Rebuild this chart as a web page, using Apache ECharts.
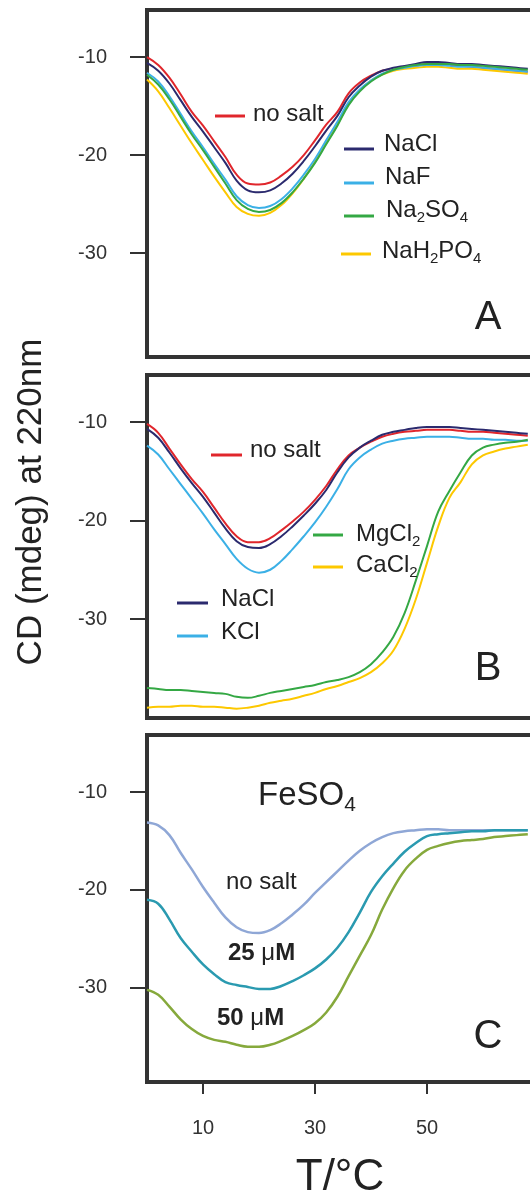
<!DOCTYPE html>
<html><head><meta charset="utf-8">
<script src="https://cdn.jsdelivr.net/npm/echarts@6/dist/echarts.min.js"></script>
<style>html,body{margin:0;padding:0;background:#fff}#c{width:530px;height:1197px}</style>
</head><body><div id="c"></div>
<script>
// Temperature (°C)
const temps = [0,2,4,6,8,10,12,14,16,18,20,22,24,26,28,30,32,34,36,38,40,42,44,46,48,50,52,54,56,58,60,62,64,66,68];

// Panel A
const A_noSalt  = [-10.0,-10.8,-12.1,-13.8,-15.6,-17.0,-18.6,-20.2,-22.0,-22.9,-23.0,-22.8,-22.1,-21.2,-20.0,-18.5,-16.9,-15.6,-13.7,-12.6,-11.9,-11.4,-11.2,-11.0,-10.9,-10.7,-10.7,-10.8,-10.9,-11.0,-11.1,-11.2,-11.3,-11.4,-11.5];
const A_NaCl    = [-10.6,-11.4,-12.7,-14.4,-16.1,-17.6,-19.2,-20.8,-22.6,-23.6,-23.8,-23.6,-22.9,-21.9,-20.6,-19.1,-17.5,-16.0,-14.1,-12.9,-12.0,-11.4,-11.1,-10.9,-10.7,-10.5,-10.5,-10.6,-10.7,-10.7,-10.8,-10.9,-11.0,-11.1,-11.2];
const A_NaF     = [-11.6,-12.5,-14.0,-15.8,-17.6,-19.2,-20.9,-22.5,-24.2,-25.1,-25.4,-25.2,-24.5,-23.4,-22.0,-20.4,-18.5,-16.6,-14.6,-13.3,-12.4,-11.7,-11.3,-11.1,-10.9,-10.8,-10.8,-10.9,-11.0,-11.0,-11.1,-11.2,-11.3,-11.4,-11.5];
const A_Na2SO4  = [-11.8,-12.8,-14.3,-16.1,-17.9,-19.5,-21.2,-22.9,-24.6,-25.5,-25.8,-25.6,-24.9,-23.8,-22.4,-20.8,-18.9,-17.0,-14.9,-13.5,-12.5,-11.8,-11.3,-11.0,-10.8,-10.7,-10.7,-10.7,-10.8,-10.8,-10.9,-11.0,-11.1,-11.2,-11.3];
const A_NaH2PO4 = [-12.3,-13.5,-15.2,-17.0,-18.8,-20.5,-22.2,-23.8,-25.3,-26.0,-26.2,-25.9,-25.1,-23.9,-22.4,-20.7,-18.8,-16.9,-14.8,-13.4,-12.4,-11.8,-11.4,-11.2,-11.1,-11.0,-11.0,-11.1,-11.2,-11.2,-11.3,-11.4,-11.5,-11.6,-11.7];

// Panel B
const B_noSalt = [-10.2,-11.1,-12.7,-14.3,-15.8,-17.1,-18.7,-20.3,-21.6,-22.2,-22.2,-21.8,-21.0,-20.1,-19.1,-17.9,-16.5,-14.8,-13.4,-12.6,-12.0,-11.5,-11.2,-11.0,-10.9,-10.8,-10.8,-10.8,-10.9,-11.0,-11.0,-11.1,-11.2,-11.3,-11.4];
const B_NaCl   = [-10.7,-11.6,-13.1,-14.7,-16.2,-17.6,-19.2,-20.8,-22.1,-22.7,-22.8,-22.4,-21.6,-20.6,-19.5,-18.3,-16.9,-15.1,-13.6,-12.6,-11.9,-11.3,-11.0,-10.8,-10.6,-10.5,-10.5,-10.5,-10.6,-10.7,-10.8,-10.9,-11.0,-11.1,-11.2];
const B_KCl    = [-12.4,-13.3,-14.8,-16.3,-17.8,-19.3,-20.9,-22.4,-23.9,-24.9,-25.3,-25.0,-24.1,-22.9,-21.6,-20.2,-18.6,-16.8,-14.8,-13.6,-12.8,-12.2,-11.9,-11.7,-11.6,-11.5,-11.5,-11.5,-11.6,-11.7,-11.7,-11.8,-11.8,-11.9,-11.9];
const B_MgCl2  = [-37.0,-37.1,-37.2,-37.2,-37.3,-37.4,-37.5,-37.6,-37.9,-38.0,-37.8,-37.5,-37.3,-37.1,-36.9,-36.7,-36.4,-36.2,-35.9,-35.4,-34.6,-33.4,-31.8,-29.4,-26.1,-22.6,-19.1,-17.0,-15.1,-13.4,-12.6,-12.3,-12.1,-12.0,-11.8];
const B_CaCl2  = [-39.0,-38.9,-38.9,-38.8,-38.8,-38.9,-38.9,-39.0,-39.1,-39.0,-38.8,-38.5,-38.3,-38.1,-37.8,-37.5,-37.1,-36.8,-36.4,-36.0,-35.4,-34.5,-33.2,-31.0,-28.0,-24.3,-20.6,-17.7,-16.1,-14.3,-13.4,-13.0,-12.7,-12.5,-12.3];

// Panel C (FeSO4)
const C_noSalt = [-13.1,-13.4,-14.4,-16.2,-17.9,-19.7,-21.3,-22.8,-23.8,-24.3,-24.4,-24.1,-23.4,-22.5,-21.5,-20.3,-19.2,-18.1,-17.0,-16.0,-15.2,-14.6,-14.2,-14.0,-13.9,-13.8,-13.8,-13.9,-13.9,-13.9,-13.9,-13.9,-13.9,-13.9,-13.9];
const C_25uM   = [-21.0,-21.4,-23.0,-24.9,-26.3,-27.6,-28.6,-29.4,-29.7,-29.9,-30.1,-30.1,-29.8,-29.3,-28.7,-28.0,-27.1,-25.9,-24.3,-22.3,-20.2,-18.6,-17.3,-16.1,-15.2,-14.5,-14.3,-14.2,-14.1,-14.0,-14.0,-13.9,-13.9,-13.9,-13.9];
const C_50uM   = [-30.2,-30.7,-31.9,-33.2,-34.2,-34.9,-35.3,-35.5,-35.8,-36.0,-36.0,-35.8,-35.4,-34.9,-34.3,-33.6,-32.5,-30.9,-28.8,-26.7,-24.6,-22.0,-19.8,-18.0,-16.8,-15.9,-15.5,-15.2,-15.0,-14.9,-14.8,-14.6,-14.5,-14.4,-14.3];

const yTicks = [-30,-20,-10];
const xTicks = [10,30,50];

const FONT = 'Arial, "Liberation Sans", Helvetica, sans-serif';
const INK = '#333';
const pair = arr => temps.map((t,i)=>[t, arr[i]]);

const grids = [
  {left:147, top:10,  width:392, height:347},
  {left:147, top:375, width:392, height:343},
  {left:147, top:735, width:392, height:347}
].map(g => Object.assign(g, {show:true, borderColor:INK, borderWidth:4, backgroundColor:'transparent', containLabel:false, outerBoundsMode:'none'}));

const yRanges = [[-40.6,-5.2],[-40.05,-5.23],[-39.6,-4.18]];
const yAxes = yRanges.map((r,i)=>({
  type:'value', gridIndex:i, min:r[0], max:r[1],
  axisLine:{show:false},
  splitLine:{show:false},
  axisTick:{show:true, length:17, customValues:yTicks, lineStyle:{color:INK, width:2}},
  axisLabel:{show:true, customValues:yTicks, margin:40, fontSize:20, color:INK, fontFamily:FONT}
}));
const xAxes = [0,1,2].map(i=>({
  type:'value', gridIndex:i, min:0, max:70,
  axisLine:{show:false}, splitLine:{show:false},
  axisTick:{show:i===2, length:12, customValues:xTicks, lineStyle:{color:INK, width:2}},
  axisLabel:{show:i===2, customValues:xTicks, margin:36, fontSize:20, color:INK, fontFamily:FONT}
}));

function ser(name, arr, g, color, w){
  return {name, type:'line', xAxisIndex:g, yAxisIndex:g, data:pair(arr), showSymbol:false, smooth:0.4,
    lineStyle:{color, width:w||2}, itemStyle:{color}, silent:true, animation:false};
}
const RED='#e0262c', NAVY='#2b2a6e', LBLUE='#3bb0e6', GREEN='#34a844', YEL='#fdc800';
const CP='#8fa7d6', CT='#2a9ab0', CO='#86a93c';

const series = [
  ser('no salt', A_noSalt, 0, RED),
  ser('NaCl', A_NaCl, 0, NAVY),
  ser('NaH2PO4', A_NaH2PO4, 0, YEL),
  ser('NaF', A_NaF, 0, LBLUE),
  ser('Na2SO4', A_Na2SO4, 0, GREEN),
  ser('KCl', B_KCl, 1, LBLUE),
  ser('no salt B', B_noSalt, 1, RED),
  ser('NaCl B', B_NaCl, 1, NAVY),
  ser('CaCl2', B_CaCl2, 1, YEL),
  ser('MgCl2', B_MgCl2, 1, GREEN),
  ser('no salt C', C_noSalt, 2, CP, 2.5),
  ser('25 µM', C_25uM, 2, CT, 2.5),
  ser('50 µM', C_50uM, 2, CO, 2.5)
];

const base = {fontSize:24, fontFamily:FONT, fill:'#222', lineHeight:30, verticalAlign:'middle'};
const sub = {fontSize:15, fontFamily:FONT, fill:'#222', lineHeight:30, verticalAlign:'bottom'};
const rich = {n:base, s:sub};
function legLine(x1,x2,y,color){ return {type:'line', shape:{x1,y1:y,x2,y2:y}, style:{stroke:color, lineWidth:3}, z:10}; }
function label(x,y,text,extra){
  return {type:'text', x, y, z:10, style:Object.assign({text, rich, fontSize:24, fontFamily:FONT, fill:'#222', align:'left', verticalAlign:'middle'}, extra||{})};
}

const graphic = [
  // Panel A legend
  legLine(215,245,116,RED),  label(253,114,'{n|no salt}'),
  legLine(344,374,149,NAVY), label(384,144,'{n|NaCl}'),
  legLine(344,374,183,LBLUE),label(385,177,'{n|NaF}'),
  legLine(344,374,216,GREEN),label(386,210,'{n|Na}{s|2}{n|SO}{s|4}'),
  legLine(341,371,254,YEL),  label(382,251,'{n|NaH}{s|2}{n|PO}{s|4}'),
  // Panel B legend
  legLine(211,242,455,RED),  label(250,450,'{n|no salt}'),
  legLine(177,208,603,NAVY), label(221,599,'{n|NaCl}'),
  legLine(177,208,636,LBLUE),label(221,632,'{n|KCl}'),
  legLine(313,343,535,GREEN),label(356,534,'{n|MgCl}{s|2}'),
  legLine(313,343,567,YEL),  label(356,565,'{n|CaCl}{s|2}'),
  // Panel C labels
  label(258,796,'{f|FeSO}{fs|4}',{rich:{f:{fontSize:33,fontFamily:FONT,fill:'#222',lineHeight:40,verticalAlign:'middle'}, fs:{fontSize:21,fontFamily:FONT,fill:'#222',lineHeight:40,verticalAlign:'bottom'}}}),
  label(226,882,'{n|no salt}'),
  label(228,953,'{b|25 }{m|μ}{b|M}',{rich:{b:{fontSize:24,fontWeight:'bold',fontFamily:FONT,fill:'#222'}, m:{fontSize:24,fontFamily:FONT,fill:'#222'}}}),
  label(217,1018,'{b|50 }{m|μ}{b|M}',{rich:{b:{fontSize:24,fontWeight:'bold',fontFamily:FONT,fill:'#222'}, m:{fontSize:24,fontFamily:FONT,fill:'#222'}}}),
  // Panel letters
  {type:'text', x:488, y:318, z:10, style:{text:'A', fontSize:40, fontFamily:FONT, fill:'#222', align:'center', verticalAlign:'middle'}},
  {type:'text', x:488, y:669, z:10, style:{text:'B', fontSize:40, fontFamily:FONT, fill:'#222', align:'center', verticalAlign:'middle'}},
  {type:'text', x:488, y:1037, z:10, style:{text:'C', fontSize:40, fontFamily:FONT, fill:'#222', align:'center', verticalAlign:'middle'}},
  // Axis titles
  {type:'text', x:31, y:502, rotation:Math.PI/2, z:10, style:{text:'CD (mdeg) at 220nm', fontSize:35, fontFamily:FONT, fill:'#222', align:'center', verticalAlign:'middle'}},
  {type:'text', x:340, y:1178, z:10, style:{text:'T/°C', fontSize:44, fontFamily:FONT, fill:'#222', align:'center', verticalAlign:'middle'}}
];

const chart = echarts.init(document.getElementById('c'), null, {renderer:'canvas'});
chart.setOption({
  animation:false,
  backgroundColor:'#fff',
  grid:grids, xAxis:xAxes, yAxis:yAxes, series, graphic
});
</script></body></html>
